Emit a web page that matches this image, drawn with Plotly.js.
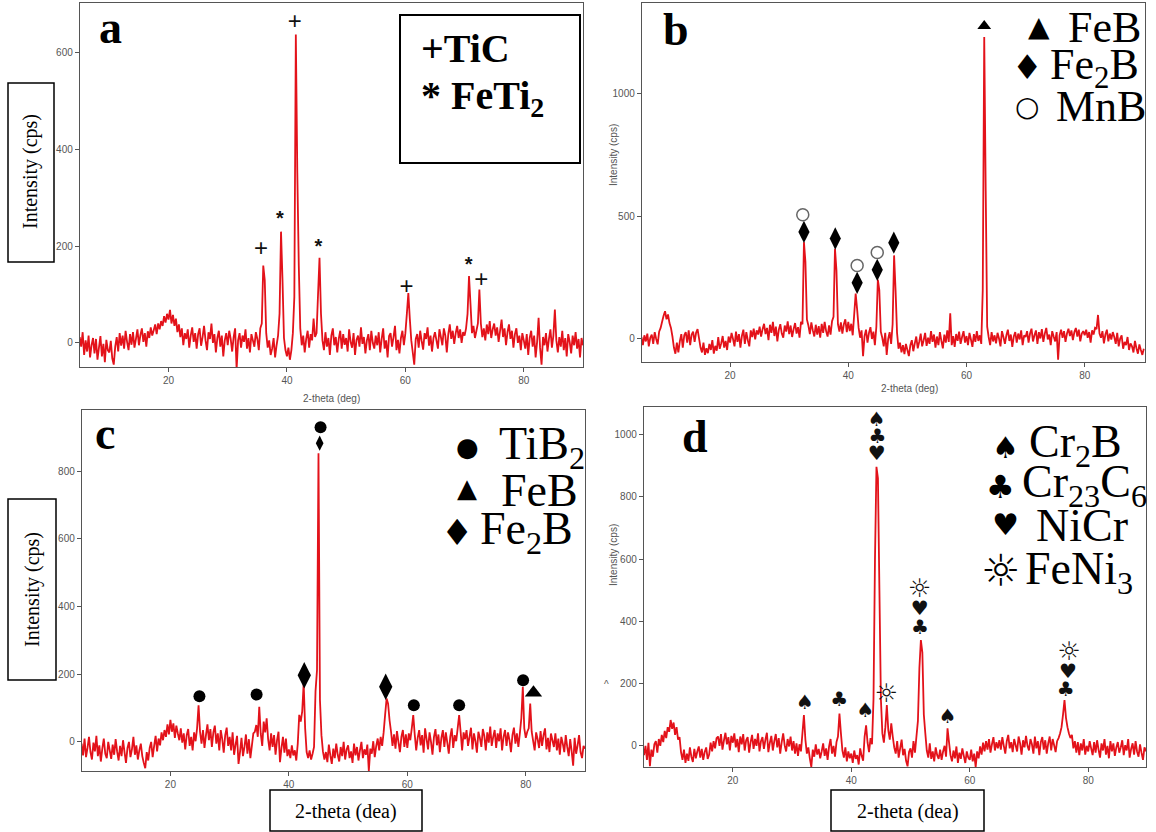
<!DOCTYPE html>
<html>
<head>
<meta charset="utf-8">
<script src="https://cdn.plot.ly/plotly-3.0.1.min.js"></script>
<style>html,body{margin:0;padding:0;background:#fff;}#chart{width:1156px;height:832px;}</style>
</head>
<body>
<div id="chart"></div>
<script>
// ---------- DATA (2-theta from 5 to 90 deg, step 0.25) ----------
const THETA_START = 5;
const THETA_STEP = 0.25;

// (a) TiC / FeTi2
const intensityA = [
 12,-8,22,-25,5,-18,15,-30,-5,10,-22,8,-35,-10,14,-28,-2,-40,6,-15,
 -20,4,-32,-45,-8,12,-18,20,-6,15,-12,25,2,-15,18,-4,22,-10,8,28,
 -5,16,30,2,20,-8,24,10,32,15,26,38,18,40,28,45,35,55,42,60,
 48,68,40,58,35,50,22,38,12,30,-5,20,8,28,-10,15,32,2,20,-12,
 18,30,-6,12,35,5,-15,22,8,40,0,18,-20,10,25,-8,15,-28,5,20,
 -5,25,8,-18,12,30,-55,5,20,-10,15,2,28,-12,10,-20,18,5,-8,22,
 8,-15,30,40,160,130,20,-10,5,-25,-12,10,-30,-5,15,60,230,130,10,-15,
 -28,-10,-35,-15,20,95,638,352,160,30,-5,15,-20,8,25,-10,18,5,50,12,
 20,100,176,60,5,-15,22,-8,10,-25,15,30,-5,12,-20,8,25,-12,18,-4,
 10,-18,28,2,-10,20,-25,6,15,-8,32,-2,12,-22,5,18,-15,25,0,-12,
 15,-5,22,-20,8,30,-12,5,-30,14,20,-8,12,35,-15,6,-22,10,25,-5,
 20,60,103,50,5,-20,-45,8,18,-10,25,4,-14,20,8,32,-6,15,-18,10,
 22,5,-12,28,12,-5,30,15,-20,18,38,8,25,-2,20,35,10,28,0,22,
 15,30,60,138,80,20,35,10,25,40,110,40,12,30,5,38,18,45,10,28,
 40,15,32,2,25,48,12,30,-5,22,38,8,25,-10,18,30,0,15,-15,20,
 5,-12,18,-25,10,25,-8,15,-30,2,52,-10,-45,12,-5,20,-18,8,28,-10,
 15,69,5,-20,12,-8,25,-15,10,-28,18,2,-22,15,-5,22,-12,8,-30,10,
 -5];

// (b) FeB / Fe2B / MnB
const intensityB = [
 8,-25,15,-10,22,-30,5,18,-20,28,0,-22,30,45,70,95,113,80,100,65,
 45,10,-35,-60,-15,-55,-10,20,-35,15,28,-15,35,-25,18,30,-12,25,40,2,
 -35,-55,-15,-65,-38,-58,-20,-45,-5,-60,-28,-48,8,-40,-18,12,-35,-8,-45,10,
 -15,25,0,-30,30,-12,20,-35,12,38,-20,28,-5,-30,35,8,42,-2,35,18,
 50,10,40,62,20,45,-5,58,25,70,12,50,-10,38,60,22,5,55,30,72,
 20,55,8,40,65,22,48,5,70,60,395,314,80,55,20,68,35,10,58,18,
 52,5,62,25,70,32,10,55,18,72,90,368,280,60,30,68,22,60,80,28,
 70,32,62,15,100,185,120,45,5,35,-70,12,38,-15,25,48,0,30,-25,50,
 242,199,30,5,-30,25,-65,0,28,-20,60,341,199,25,-40,-15,-55,-25,-62,-20,
 -45,-70,-25,-5,-50,-18,10,-38,-12,22,-30,-5,25,-28,5,-20,32,-12,18,-35,
 10,-25,28,-8,-38,18,-15,35,-12,105,-25,12,-32,20,-8,30,-20,8,32,-15,
 12,-25,25,-2,-32,20,-12,32,-8,15,-20,200,1232,604,50,8,-25,28,-10,15,
 -18,25,2,-30,32,8,-20,15,38,-8,18,-32,10,28,-15,22,-2,35,-25,15,
 8,32,-15,22,42,-10,15,35,-20,28,2,40,-12,22,45,-2,18,-25,32,10,
 -10,28,-85,15,38,5,32,-12,22,42,12,35,-5,28,45,10,38,-10,22,32,
 15,38,5,28,-15,35,18,45,40,98,22,5,32,-18,18,38,-10,22,-2,28,
 8,-20,25,-30,2,15,-40,-12,-25,8,-45,-18,-30,-55,-8,-38,-60,-22,-45,-65,
 -40];

// (c) TiB2 / FeB / Fe2B
const intensityC = [
 -5,-40,10,-45,-18,15,-30,-52,-2,-28,18,-42,-10,-58,-20,10,-35,-48,0,-25,
 -50,-8,-38,8,-28,-55,-12,-42,5,-30,-62,-18,0,-45,-22,15,-38,-10,-52,-25,
 -5,-42,-62,-78,-30,-55,-18,0,-45,-12,18,-28,10,-10,28,5,35,15,52,22,
 65,30,55,12,48,25,5,40,-2,25,-22,20,38,-12,15,-25,28,2,40,108,
 30,-5,35,-18,20,52,5,38,-15,28,48,-5,25,-25,35,8,-32,20,42,-12,
 15,-25,28,-38,-8,18,-65,-30,12,-42,-15,22,-35,8,-48,-12,25,30,50,15,
 104,25,-12,60,28,70,8,-25,25,-15,20,-38,5,30,-60,-18,15,-32,10,-42,
 -22,-48,-10,-40,-25,-55,-5,80,60,90,173,40,-30,-48,-25,-52,-35,-15,150,212,
 853,123,20,-28,-52,-30,-60,-8,-40,-65,-20,-48,-5,-38,-58,-15,-42,0,-52,-22,
 -10,-48,-28,-62,-5,-40,-15,-55,-25,0,-48,-22,-38,-8,-86,-20,-35,2,-45,-12,
 10,-25,15,-12,28,80,128,113,64,30,-12,22,-20,32,0,-30,15,35,-15,22,
 -18,25,5,40,79,22,-25,12,35,-10,20,-32,40,8,-22,28,0,-38,15,38,
 -10,22,-30,12,35,-15,28,-2,-35,15,40,-18,20,2,40,79,30,-25,28,8,
 35,-12,15,42,-22,25,2,-32,30,12,-15,38,18,-25,28,-2,45,-12,15,35,
 -18,25,2,40,-25,15,35,-12,28,5,-30,20,42,-5,25,-15,25,70,163,40,
 12,30,40,113,30,2,-25,28,8,-18,32,-12,20,40,-22,12,-30,25,5,-15,
 25,-25,10,-38,15,-5,-30,20,-15,-42,8,-28,-70,12,-35,-10,20,-30,-48,-12,
 -20];

// (d) Cr2B / Cr23C6 / NiCr / FeNi3
const intensityD = [
 -30,0,-45,10,-65,-12,-35,5,15,-22,22,0,35,12,48,25,60,45,83,55,
 75,35,60,20,28,-20,-45,-12,-55,-25,-48,-5,-35,-52,-10,-40,-18,-2,-38,-10,
 -45,-20,-5,-42,-28,10,-18,15,-8,25,30,0,38,-12,18,42,5,28,-15,32,
 10,40,-5,22,-20,30,5,38,-15,18,28,-22,12,35,-10,22,0,40,-18,15,
 28,-10,20,42,-20,10,32,-15,15,38,-5,25,-25,12,40,2,-18,22,-2,30,
 -15,15,-25,8,-32,5,-18,40,99,20,-25,-5,-40,-68,-12,-35,5,-28,-10,-40,
 -18,8,-32,-8,-45,-2,22,-25,0,-35,12,30,104,40,-15,-38,-5,-50,-18,-40,
 -25,-55,-15,-42,-30,-60,-8,-32,-48,30,66,10,-20,25,5,150,600,897,860,500,
 150,40,10,60,131,50,20,72,30,-5,-25,15,-38,-8,20,-30,-10,-48,-66,-20,
 -8,-38,15,-22,30,80,250,340,300,100,40,-15,-38,8,-42,-18,-50,-5,-30,-42,
 -12,-45,-18,0,-35,56,12,-30,-50,-15,-40,-2,-55,-22,-42,-8,-32,-55,-18,-38,
 -45,-12,-50,-25,-68,-18,-40,-2,-28,10,-18,15,-12,22,-22,5,28,-15,12,-8,
 18,-12,28,0,-25,15,35,-8,12,-20,22,2,-18,30,8,-28,18,-5,32,0,
 -15,22,5,-25,30,-8,15,-30,12,28,-12,18,-25,8,30,-15,22,2,-20,15,
 25,40,60,100,147,90,60,40,25,35,-8,15,-22,12,-30,8,-15,22,-28,0,
 -18,15,-8,-30,12,-22,18,-12,-38,8,-15,22,-28,0,-40,15,-18,8,-32,-5,
 12,-22,-5,18,-30,2,-15,22,-38,-10,8,-28,15,-18,-35,5,-22,-45,-5,-15,
 -22];

// Phase markers (2-theta, intensity)
const aPlusX = [35.6, 41.3, 60.2, 72.8];
const aPlusY = [192, 661, 114, 128];
const aStarX = [38.8, 45.3, 70.7];
const aStarY = [255, 197, 159];

const bDiamondX = [32.5, 37.8, 41.5, 44.9, 47.7];
const bDiamondY = [437, 410, 229, 282, 393];
const bCircleX = [32.3, 41.5, 44.9];
const bCircleY = [507, 300, 353];
const bTriangleX = [63.0];
const bTriangleY = [1277];

const cCircleX = [24.9, 34.55, 45.35, 61.1, 68.75, 79.55];
const cCircleY = [135, 140, 930, 108, 108, 182];
const cDiamondX = [42.6, 56.35];
const cDiamondY = [197, 163];
const cSmallDiamondX = [45.2];
const cSmallDiamondY = [883];
const cTriangleX = [81.3];
const cTriangleY = [145];

const dSpadeX = [44.3, 32.2, 42.4, 56.3];
const dSpadeY = [1043, 133, 109, 89];
const dClubX = [44.4, 51.6, 37.95, 76.2];
const dClubY = [988, 377, 143, 177];
const dHeartX = [44.3, 51.55, 76.6];
const dHeartY = [935, 438, 235];
const dSunX = [51.55, 45.95, 76.8];
const dSunY = [498, 163, 297];

const xTickVals = [20, 40, 60, 80];

// ---------- LAYOUT ----------
const W = 1156, H = 832;
const fx = v => v / W;
const fy = v => 1 - v / H;
const SERIF = 'Liberation Serif, Times New Roman, serif';
const SANS = 'Liberation Sans, Arial, sans-serif';
const SYM = 'DejaVu Sans, sans-serif';
const LINE = '#e3121a';

function lineTrace(y, n) {
  return {y: y, x0: THETA_START, dx: THETA_STEP, mode: 'lines', type: 'scatter',
    line: {color: LINE, width: 1.8, simplify: false}, xaxis: 'x' + n, yaxis: 'y' + n, hoverinfo: 'skip'};
}
function textTrace(x, y, glyph, n, size, family, weight) {
  return {x: x, y: y, text: x.map(() => glyph), mode: 'text', type: 'scatter',
    textposition: 'middle center', textfont: {family: family, size: size, color: '#111', weight: weight || 'normal'},
    xaxis: 'x' + n, yaxis: 'y' + n, hoverinfo: 'skip'};
}
function markerTrace(x, y, n, marker) {
  return {x: x, y: y, mode: 'markers', type: 'scatter', marker: marker,
    xaxis: 'x' + n, yaxis: 'y' + n, hoverinfo: 'skip'};
}

const traces = [
  lineTrace(intensityA, ''), lineTrace(intensityB, 2), lineTrace(intensityC, 3), lineTrace(intensityD, 4),
  textTrace(aPlusX, aPlusY, '+', '', 24, SANS),
  textTrace(aStarX, aStarY, '*', '', 20, SANS, 'bold'),
  markerTrace(bDiamondX, bDiamondY, 2, {symbol: 'diamond-tall', size: 16, color: '#000'}),
  markerTrace(bCircleX, bCircleY, 2, {symbol: 'circle-open', size: 12, color: '#666', line: {width: 1.5}}),
  markerTrace(bTriangleX, bTriangleY, 2, {symbol: 'triangle-up', size: 12, color: '#000'}),
  markerTrace(cCircleX, cCircleY, 3, {symbol: 'circle', size: 12, color: '#000'}),
  markerTrace(cDiamondX, cDiamondY, 3, {symbol: 'diamond-tall', size: 19, color: '#000'}),
  markerTrace(cSmallDiamondX, cSmallDiamondY, 3, {symbol: 'diamond-tall', size: 11, color: '#000'}),
  markerTrace(cTriangleX, cTriangleY, 3, {symbol: 'triangle-up', size: 15, color: '#000'}),
  textTrace(dSpadeX, dSpadeY, '\u2660', 4, 20, SYM),
  textTrace(dClubX, dClubY, '\u2663', 4, 20, SYM),
  textTrace(dHeartX, dHeartY, '\u2665', 4, 20, SYM),
  textTrace(dSunX, dSunY, '\u263C', 4, 26, SYM)
];
traces.forEach(t => t.showlegend = false);

function xAxis(d0, d1, r, anchor) {
  return {domain: [fx(d0), fx(d1)], range: r, anchor: anchor, tickvals: xTickVals,
    showline: true, mirror: true, linecolor: '#555', linewidth: 1.2, ticks: 'outside', ticklen: 4,
    tickcolor: '#555', tickfont: {family: SANS, size: 10, color: '#555'}, showgrid: false, zeroline: false};
}
function yAxis(top, bottom, r, dtick, anchor) {
  return {domain: [fy(bottom), fy(top)], range: r, anchor: anchor, dtick: dtick, tick0: 0,
    showline: true, mirror: true, linecolor: '#555', linewidth: 1.2, ticks: 'outside', ticklen: 4,
    tickcolor: '#555', tickfont: {family: SANS, size: 10, color: '#555'}, showgrid: false, zeroline: false};
}

function ann(text, x, y, o) {
  o = o || {};
  return Object.assign({text: text, xref: 'paper', yref: 'paper', x: fx(x), y: fy(y), showarrow: false,
    xanchor: 'center', yanchor: 'middle',
    font: {family: SERIF, size: 20, color: '#000'}}, o);
}
function rect(x0, y0, x1, y1, w) {
  return {type: 'rect', xref: 'paper', yref: 'paper', x0: fx(x0), x1: fx(x1), y0: fy(y0), y1: fy(y1),
    line: {color: '#000', width: w || 1.5}, fillcolor: '#fff', layer: 'above'};
}

const big = s => ({family: SERIF, size: s, color: '#000'});
const bigB = s => ({family: SERIF, size: s, color: '#000', weight: 'bold'});
const sym = s => ({family: SYM, size: s, color: '#000'});
const small = {family: SANS, size: 10, color: '#555'};

const annotations = [
  // panel letters
  ann('a', 110, 28, {font: bigB(46)}),
  ann('b', 676, 30, {font: bigB(46)}),
  ann('c', 105, 433, {font: bigB(46)}),
  ann('d', 695, 436, {font: bigB(46)}),
  // legend a
  ann('+TiC', 419, 48, {xanchor: 'left', font: bigB(40)}),
  ann('* FeTi<sub>2</sub>', 419, 98, {xanchor: 'left', font: bigB(40)}),
  // legend b
  ann('\u25B2', 1039, 26, {font: sym(28)}),
  ann('FeB', 1066, 28, {xanchor: 'left', font: big(44)}),
  ann('\u2666', 1027, 67, {font: sym(34)}),
  ann('Fe<sub>2</sub>B', 1048, 67, {xanchor: 'left', font: big(44)}),
  ann('\u25CB', 1027, 107, {font: sym(28)}),
  ann('MnB', 1054, 107, {xanchor: 'left', font: big(44)}),
  // legend c
  ann('\u25CF', 467, 447, {font: sym(26)}),
  ann('TiB<sub>2</sub>', 497, 447, {xanchor: 'left', font: big(46)}),
  ann('\u25B2', 467, 488, {font: sym(26)}),
  ann('FeB', 499, 490, {xanchor: 'left', font: big(46)}),
  ann('\u2666', 457, 532, {font: sym(36)}),
  ann('Fe<sub>2</sub>B', 478, 532, {xanchor: 'left', font: big(46)}),
  // legend d
  ann('\u2660', 1005, 447, {font: sym(30)}),
  ann('Cr<sub>2</sub>B', 1027, 445, {xanchor: 'left', font: big(46)}),
  ann('\u2663', 1000, 487, {font: sym(32)}),
  ann('Cr<sub>23</sub>C<sub>6</sub>', 1020, 485, {xanchor: 'left', font: big(46)}),
  ann('\u2665', 1005, 524, {font: sym(30)}),
  ann('NiCr', 1034, 525, {xanchor: 'left', font: big(46)}),
  ann('\u263C', 1000, 570, {font: sym(44)}),
  ann('FeNi<sub>3</sub>', 1023, 572, {xanchor: 'left', font: big(46)}),
  // small axis titles
  ann('2-theta (deg)', 331, 398, {font: small}),
  ann('2-theta (deg)', 909, 389, {font: small}),
  ann('Intensity (cps)', 614, 155, {font: small, textangle: -90}),
  ann('Intensity (cps)', 613, 555, {font: small, textangle: -90}),
  ann('^', 606, 684, {font: small}),
  // boxed titles
  ann('Intensity (cps)', 31, 172, {textangle: -90}),
  ann('Intensity (cps)', 32, 590, {textangle: -90}),
  ann('2-theta (dea)', 346, 811),
  ann('2-theta (dea)', 908, 811)
];

const shapes = [
  rect(400, 15, 580, 163, 2),
  rect(8, 83, 54, 262),
  rect(8, 499, 56, 680),
  rect(270, 790, 422, 831),
  rect(831, 790, 984, 831)
];

const layout = {
  width: W, height: H, margin: {l: 0, r: 0, t: 0, b: 0},
  paper_bgcolor: '#fff', plot_bgcolor: '#fff', showlegend: false,
  xaxis: xAxis(80, 583, [5.05, 90], 'y'),
  yaxis: yAxis(3, 367, [-50, 703], 200, 'x'),
  xaxis2: xAxis(642, 1145, [5.1, 90.2], 'y2'),
  yaxis2: yAxis(3, 362, [-94, 1371], 500, 'x2'),
  xaxis3: xAxis(82, 585, [5.07, 90], 'y3'),
  yaxis3: yAxis(410, 771, [-86, 981], 200, 'x3'),
  xaxis4: xAxis(644, 1146, [5.0, 89.76], 'y4'),
  yaxis4: yAxis(407, 767, [-68, 1089], 200, 'x4'),
  annotations: annotations,
  shapes: shapes
};

Plotly.newPlot('chart', traces, layout, {staticPlot: true, displayModeBar: false});
</script>
</body>
</html>
